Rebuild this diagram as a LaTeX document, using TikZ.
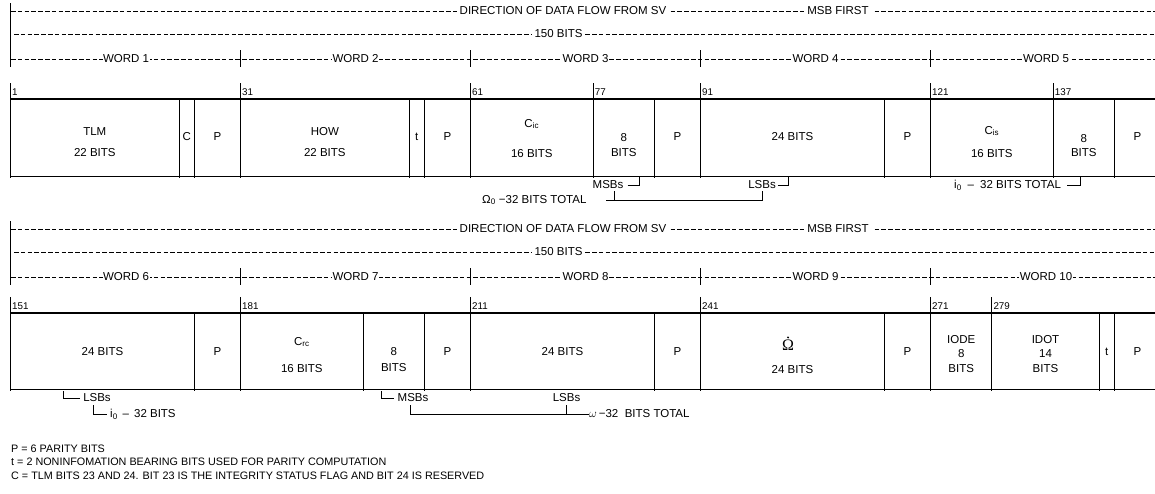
\documentclass[tikz,border=0pt]{standalone}
\usepackage{fontspec}
\setmainfont{Liberation Sans}
\newfontfamily\omfont{Liberation Serif}
\newcommand{\flowheader}[7]{%
  \draw[hdash] (11,#2+11) -- (1155,#2+11);
  \draw[hdash] (14,#2+34) -- (1155,#2+34);
  \draw[hdash] (11,#2+59) -- (1155,#2+59);
  \draw[bar] (10.5,#2+3) -- (10.5,#2+67);
  \foreach \tx in {240.5,470.5,700.5,930.5} {\draw[wtick] (\tx,#2+50) -- (\tx,#2+67);}
  \node[lbl] (#1dir) at (563,#2+11) {DIRECTION OF DATA FLOW FROM SV};
  \node[lbl] (#1msb) at (838,#2+11) {MSB FIRST};
  \node[lbl] (#1bits) at (558.5,#2+34) {150 BITS};
  \node[wlbl] (#1wa) at (126,#2+59) {WORD #3};
  \node[wlbl] (#1wb) at (355.5,#2+59) {WORD #4};
  \node[wlbl] (#1wc) at (585.5,#2+59) {WORD #5};
  \node[wlbl] (#1wd) at (815.5,#2+59) {WORD #6};
  \node[wlbl] (#1we) at (1046,#2+59) {WORD #7};
}
\begin{document}
\begin{tikzpicture}[x=1pt,y=-1pt,
  txt/.style={font=\fontsize{11.5}{13}\selectfont, inner sep=0pt},
  num/.style={font=\fontsize{9.8}{11}\selectfont, inner sep=0pt, anchor=west},
  foot/.style={font=\fontsize{10.8}{12}\selectfont, inner sep=0pt, anchor=west},
  lbl/.style={txt, fill=white, inner xsep=3pt, inner ysep=1pt},
  wlbl/.style={txt, fill=white, inner xsep=0.5pt, inner ysep=1pt},
  hdash/.style={line width=0.7pt, dash pattern=on 4.5pt off 2.3pt},
  bar/.style={line width=1.3pt},
  wtick/.style={line width=0.9pt},
  sep/.style={line width=1.3pt},
  ntick/.style={line width=0.8pt},
  topline/.style={line width=1.4pt},
  botline/.style={line width=0.8pt},
  brk/.style={line width=0.8pt},
]
\useasboundingbox (0,0) rectangle (1155,493);

% ---------------- Row 1 ----------------
\flowheader{ha}{0}{1}{2}{3}{4}{5}
\draw[topline] (10.5,99) -- (1155,99);
\draw[botline] (10.5,176) -- (1155,176);
\foreach \sx in {179.17,194.5,409.17,424.5,654.5,884.5,1114.5} {\draw[sep] (\sx,99) -- (\sx,178);}
\foreach \sx/\n in {10.5/1,240.5/31,470.5/61,593.17/77,700.5/91,930.5/121,1053.17/137}
  {\draw[sep] (\sx,99) -- (\sx,178); \draw[ntick] (\sx,83) -- (\sx,99); \node[num] (n\n) at (\sx+1.5,92) {\n};}

\node[txt] (tlm) at (94.8,131.5) {TLM};
\node[txt] (tlmb) at (94.8,152.5) {22 BITS};
\node[txt] (cc) at (186.8,137) {C};
\node[txt] (p1) at (217.5,137) {P};
\node[txt] (how) at (324.8,131.5) {HOW};
\node[txt] (howb) at (324.8,152.5) {22 BITS};
\node[txt] (t1) at (416.8,137) {t};
\node[txt] (p2) at (447.5,137) {P};
\node[txt] (cic) at (531.8,124) {C\textsubscript{ic}};
\node[txt] (cicb) at (531.8,154) {16 BITS};
\node[txt] (e1) at (623.8,138) {8};
\node[txt] (e1b) at (623.8,153) {BITS};
\node[txt] (p3) at (677.5,137) {P};
\node[txt] (w4b) at (792.5,137) {24 BITS};
\node[txt] (p4) at (907.5,137) {P};
\node[txt] (cis) at (991.8,131) {C\textsubscript{is}};
\node[txt] (cisb) at (991.8,154) {16 BITS};
\node[txt] (e2) at (1083.8,139) {8};
\node[txt] (e2b) at (1083.8,153) {BITS};
\node[txt] (p5) at (1137.5,137) {P};

% brackets row 1
\node[txt] (msbA) at (608,185) {MSBs};
\coordinate (msbAend) at (639,177);
\draw[brk] ([xshift=4pt]msbA.east) -| (msbAend);
\node[txt] (lsbA) at (762,185) {LSBs};
\coordinate (lsbAend) at (788,177);
\draw[brk] ([xshift=2pt]lsbA.east) -| (lsbAend);
\node[txt, anchor=west] (omA) at (482,200) {Ω\textsubscript{0} −32 BITS TOTAL};
\coordinate (omAL) at (606,200);
\draw[brk] (omAL) -- (lsbA.south |- omAL) -- ([yshift=-2pt]lsbA.south);
\draw[brk] ([xshift=6pt]msbA.south |- omAL) -- ([xshift=6pt,yshift=-2pt]msbA.south);
\node[txt, anchor=west] (i0A) at (954,185) {i\textsubscript{0}\hspace{6pt}–\hspace{6pt}32 BITS TOTAL};
\coordinate (i0Ahook) at (1067,185);
\coordinate (i0Aend) at (1080,177);
\draw[brk] (i0Ahook) -| (i0Aend);

% ---------------- Row 2 ----------------
\flowheader{hb}{218}{6}{7}{8}{9}{10}
\draw[topline] (10.5,313) -- (1155,313);
\draw[botline] (10.5,389) -- (1155,389);
\foreach \sx in {194.5,363.17,424.5,654.5,884.5,1099.17,1114.5} {\draw[sep] (\sx,313) -- (\sx,391);}
\foreach \sx/\n in {10.5/151,240.5/181,470.5/211,700.5/241,930.5/271,991.83/279}
  {\draw[sep] (\sx,313) -- (\sx,391); \draw[ntick] (\sx,297) -- (\sx,313); \node[num] (n\n) at (\sx+1.5,306) {\n};}

\node[txt] (w6b) at (102.5,352) {24 BITS};
\node[txt] (p6) at (217.5,352) {P};
\node[txt] (crc) at (301.8,342) {C\textsubscript{rc}};
\node[txt] (crcb) at (301.8,369) {16 BITS};
\node[txt] (e3) at (393.8,352) {8};
\node[txt] (e3b) at (393.8,368) {BITS};
\node[txt] (p7) at (447.5,352) {P};
\node[txt] (w8b) at (562.5,352) {24 BITS};
\node[txt] (p8) at (677.5,352) {P};
\node[inner sep=0pt] (omdot) at (788,345.5) {\omfont\fontsize{16}{16}\selectfont Ω};
\fill ([yshift=2.6pt]omdot.north) circle (1.1pt);
\node[txt] (omdotb) at (792.5,370) {24 BITS};
\node[txt] (p9) at (907.5,352) {P};
\node[txt] (iode) at (961.2,340) {IODE};
\node[txt] (iode8) at (961.2,354) {8};
\node[txt] (iodeb) at (961.2,368.5) {BITS};
\node[txt] (idot) at (1045.5,340) {IDOT};
\node[txt] (idot14) at (1045.5,354) {14};
\node[txt] (idotb) at (1045.5,368.5) {BITS};
\node[txt] (t2) at (1106.8,352) {t};
\node[txt] (p10) at (1137.5,352) {P};

% brackets row 2
\node[txt] (lsbB) at (97,398) {LSBs};
\coordinate (lsbBtop) at (63,391);
\draw[brk] (lsbBtop) |- ([xshift=-3pt]lsbB.west);
\node[txt, anchor=west] (i0B) at (110,414) {i\textsubscript{0}\hspace{5pt}–\hspace{5pt}32 BITS};
\coordinate (i0Btop) at (93,405);
\draw[brk] (i0Btop) |- ([xshift=-3pt]i0B.west);
\node[txt] (msbB) at (413,398) {MSBs};
\coordinate (msbBtop) at (381,391);
\draw[brk] (msbBtop) |- ([xshift=-3pt]msbB.west);
\node[txt] (lsbC) at (566.5,398) {LSBs};
\node[txt, anchor=west] (omB) at (589,414) {$\omega$\,−32\ \ BITS TOTAL};
\coordinate (omBtop) at (410,405);
\draw[brk] (omBtop) |- (omB.west);
\draw[brk] (lsbC.south |- omB.west) -- ([yshift=-3pt]lsbC.south);

% footnotes
\node[foot] (fP) at (11,449) {P = 6 PARITY BITS};
\node[foot] (ft) at (11,462) {t = 2 NONINFOMATION BEARING BITS USED FOR PARITY COMPUTATION};
\node[foot] (fC) at (11,476) {C = TLM BITS 23 AND 24. BIT 23 IS THE INTEGRITY STATUS FLAG AND BIT 24 IS RESERVED};
\end{tikzpicture}
\end{document}
